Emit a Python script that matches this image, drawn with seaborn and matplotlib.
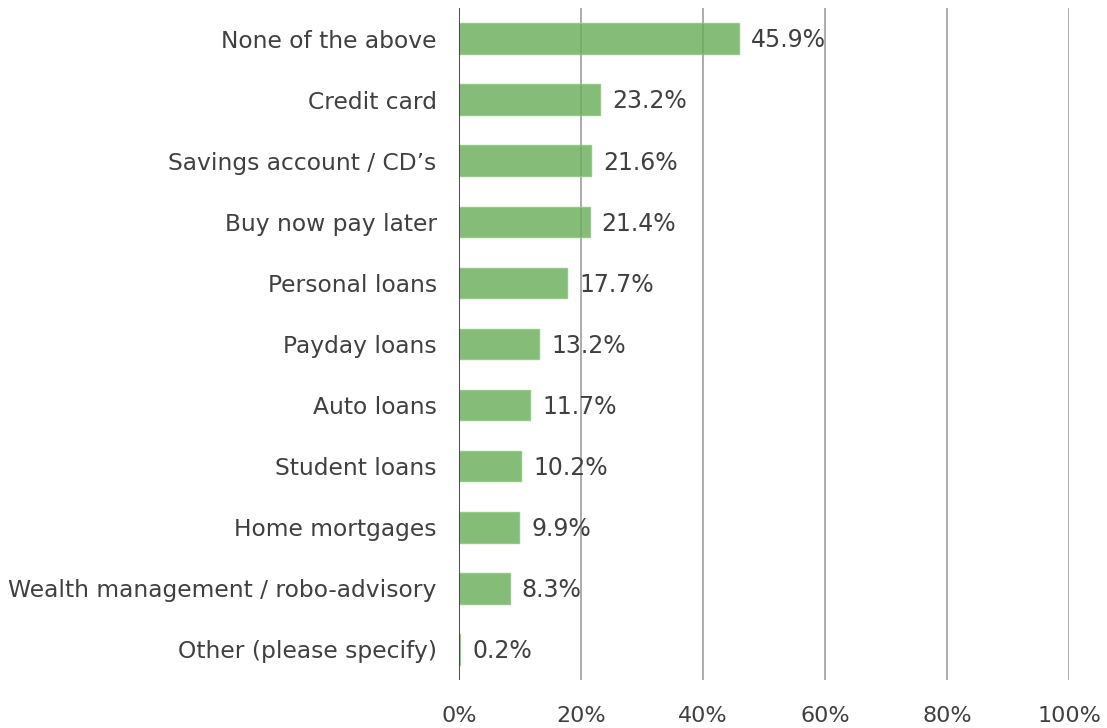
import matplotlib
matplotlib.use("Agg")
import matplotlib.pyplot as plt
import seaborn as sns
import pandas as pd

categories = [
    "None of the above",
    "Credit card",
    "Savings account / CD\u2019s",
    "Buy now pay later",
    "Personal loans",
    "Payday loans",
    "Auto loans",
    "Student loans",
    "Home mortgages",
    "Wealth management / robo-advisory",
    "Other (please specify)",
]
shares = [45.9, 23.2, 21.6, 21.4, 17.7, 13.2, 11.7, 10.2, 9.9, 8.3, 0.2]
x_ticks = [0, 20, 40, 60, 80, 100]

df = pd.DataFrame({"category": categories, "share": shares})

sns.set_theme(style="white")
plt.rcParams["font.family"] = ["DejaVu Sans"]
text_color = "#404040"

fig = plt.figure(figsize=(11.07, 7.28), dpi=100)
ax = fig.add_axes([0.4146, 0.066, 0.5511, 0.923])

sns.barplot(data=df, x="share", y="category", orient="h", color="#6aaf5a",
            alpha=0.82, width=0.5, saturation=1, linewidth=1.0,
            edgecolor="#8cc47e", ax=ax, zorder=3)

ax.set_xlim(0, 100)
ax.set_ylim(len(categories) - 0.5, -0.5)
ax.set_xticks(x_ticks)
ax.set_xticklabels([f"{t}%" for t in x_ticks])
ax.set_xlabel("")
ax.set_ylabel("")

for t in x_ticks[1:]:
    ax.axvline(t, color="#a6a6a6", lw=1.3, zorder=1)
ax.axvline(0, color="#3a3a3a", lw=1.3, zorder=4)

for i, v in enumerate(shares):
    ax.text(v + 2.0, i + 0.03, f"{v:.1f}%", va="center", ha="left",
            fontsize=17, color=text_color, zorder=5)

for s in ax.spines.values():
    s.set_visible(False)
ax.tick_params(axis="x", length=0, pad=19, labelsize=16, labelcolor=text_color)
ax.tick_params(axis="y", length=0, pad=16, labelsize=16.8, labelcolor=text_color)
ax.grid(False)

fig.savefig("out.png", dpi=100)
